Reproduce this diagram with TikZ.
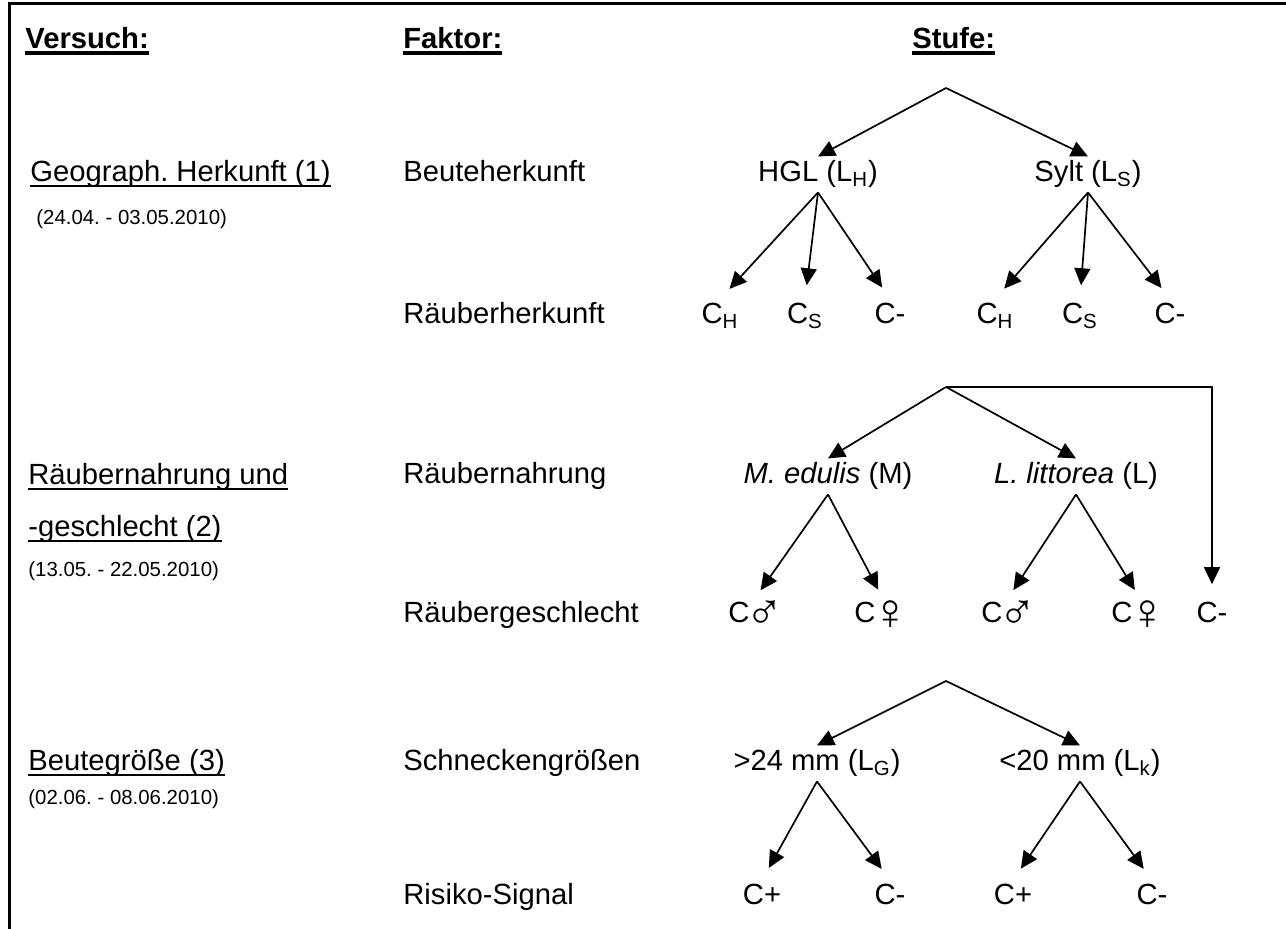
\documentclass[tikz,border=0pt]{standalone}
\usepackage{fontspec}
\setmainfont{Liberation Sans}
\usetikzlibrary{arrows.meta,positioning}
\frenchspacing

\newsavebox{\untbox}
\newcommand{\unter}[3]{\sbox{\untbox}{#3}\usebox{\untbox}\llap{\rule[#1]{\wd\untbox}{#2}}}
\newcommand{\kopf}[1]{\unter{-2.8pt}{1.6pt}{\textbf{#1}}}
\newcommand{\versuch}[1]{\unter{-2.6pt}{1.1pt}{#1}}
\newcommand{\sym}[1]{\hspace{-2pt}\raisebox{-3.5pt}{\scalebox{1.75}{#1}}\hspace{-2pt}}

\begin{document}
\begin{tikzpicture}[x=0.5pt,y=-0.5pt,font=\fontsize{14.6}{17.5}\selectfont]
	\tikzset{
		>={Triangle[length=8.5pt,width=8pt]},
		txt/.style={anchor=base west,inner sep=0pt},
		datum/.style={txt,font=\fontsize{10.2}{12}\selectfont},
		stufe/.style={anchor=base,inner sep=2pt},
		pfeil/.style={->,line width=0.85pt}
	}
	\useasboundingbox (0,0) rectangle (1286,929);

	%% Rahmen
	\draw[line width=1.5pt] (9,929) -- (9,4) -- (1286,4);

	%% Spaltenkoepfe
	\node[txt] (hv) at (25,49) {\kopf{Versuch:}};
	\node[txt] (hf) at (403,49) {\kopf{Faktor:}};
	\node[txt] (hs) at (912,49) {\kopf{Stufe:}};

	%% Versuche
	\node[txt] (v1) at (30,182) {\versuch{Geograph. Herkunft (1)}};
	\node[datum] (d1) at (36,225) {(24.04. - 03.05.2010)};
	\node[txt] (v2) at (28,485) {\versuch{Räubernahrung und}};
	\node[txt] (v2b) at (28,537) {\versuch{-geschlecht (2)}};
	\node[datum] (d2) at (28,577) {(13.05. - 22.05.2010)};
	\node[txt] (v3) at (28,771) {\versuch{Beutegröße (3)}};
	\node[datum] (d3) at (28,805) {(02.06. - 08.06.2010)};

	%% Faktoren
	\node[txt] (f1) at (403,182) {Beuteherkunft};
	\node[txt] (f2) at (403,324) {Räuberherkunft};
	\node[txt] (f3) at (403,484) {Räubernahrung};
	\node[txt] (f4) at (403,623) {Räubergeschlecht};
	\node[txt] (f5) at (403,771) {Schneckengrößen};
	\node[txt] (f6) at (403,905) {Risiko-Signal};

	%% Versuch 1
	\coordinate (top1) at (946,88);
	\node[stufe] (hgl) at (818,182) {HGL (L\textsubscript{H})};
	\node[stufe] (sylt) at (1088,182) {Sylt (L\textsubscript{S})};
	\node[stufe] (r1) at (720,324) {C\textsubscript{H}};
	\node[stufe] (r2) at (805,324) {C\textsubscript{S}};
	\node[stufe] (r3) at (890,324) {C-};
	\node[stufe] (r4) at (995,324) {C\textsubscript{H}};
	\node[stufe] (r5) at (1080,324) {C\textsubscript{S}};
	\node[stufe] (r6) at (1170,324) {C-};
	\path[pfeil] (top1) edge (hgl.north) edge (sylt.north);
	\path[pfeil,shorten >=7pt] (hgl.south) edge (r1.north) edge (r2.north) edge (r3.north);
	\path[pfeil,shorten >=7pt] (sylt.south) edge (r4.north) edge (r5.north) edge (r6.north);

	%% Versuch 2
	\coordinate (top2) at (946,387);
	\node[stufe] (m) at (828,484) {\textit{M. edulis} (M)};
	\node[stufe] (l) at (1076,484) {\textit{L. littorea} (L)};
	\node[stufe] (g1) at (756,623) {C\sym{♂}};
	\node[stufe] (g2) at (882,623) {C\sym{♀}};
	\node[stufe] (g3) at (1009,623) {C\sym{♂}};
	\node[stufe] (g4) at (1139,623) {C\sym{♀}};
	\node[stufe] (g5) at (1212,623) {C-};
	\path[pfeil] (top2) edge (m.north) edge (l.north);
	\path[pfeil,shorten >=4pt] (m.south) edge (g1.north) edge (g2.north);
	\path[pfeil,shorten >=4pt] (l.south) edge (g3.north) edge (g4.north);
	\draw[pfeil,shorten >=7pt] (top2) -| (g5.north);

	%% Versuch 3
	\coordinate (top3) at (946,681);
	\node[stufe] (lg) at (817,771) {>24 mm (L\textsubscript{G})};
	\node[stufe] (lk) at (1080,771) {<20 mm (L\textsubscript{k})};
	\node[stufe] (s1) at (762,905) {C+};
	\node[stufe] (s2) at (890,905) {C-};
	\node[stufe] (s3) at (1013,905) {C+};
	\node[stufe] (s4) at (1152,905) {C-};
	\path[pfeil] (top3) edge (lg.north) edge (lk.north);
	\path[pfeil,shorten >=7pt] (lg.south) edge (s1.north) edge (s2.north);
	\path[pfeil,shorten >=7pt] (lk.south) edge (s3.north) edge (s4.north);
\end{tikzpicture}
\end{document}
